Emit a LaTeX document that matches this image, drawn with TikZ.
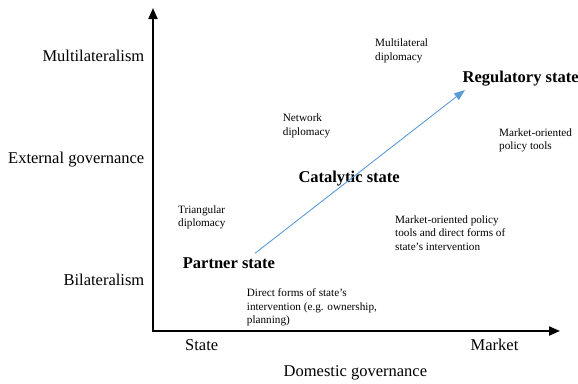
\documentclass[tikz,border=0pt]{standalone}
\usepackage{fontspec}
\setmainfont{Liberation Serif}
\usetikzlibrary{arrows.meta}
\definecolor{trend}{HTML}{5B9BD5}
\begin{document}
\begin{tikzpicture}[x=1pt,y=-1pt,
  axislabel/.style={anchor=base east,inner sep=0pt,font=\fontsize{16.5}{19}\selectfont},
  ticklabel/.style={anchor=base west,inner sep=0pt,font=\fontsize{16.5}{19}\selectfont},
  statelabel/.style={anchor=base west,inner sep=0pt,font=\fontsize{16.5}{19}\selectfont\bfseries},
  note/.style={anchor=base west,inner sep=0pt,font=\fontsize{11.2}{13.5}\selectfont},
  axis/.style={line width=2pt,{Triangle[length=11pt,width=9pt]}-{Triangle[length=11pt,width=9pt]}},
  trendline/.style={draw=trend,line width=0.9pt,-{Triangle[length=11pt,width=8pt]}}]
\useasboundingbox (0,0) rectangle (578,383);

% axes
\coordinate (ytop) at (153,8);
\coordinate (origin) at (153,331);
\coordinate (xend) at (560,331);
\draw[axis] (ytop) -- (origin) -- (xend);

% vertical axis categories
\node[axislabel] (multi) at (144.5,61.5) {Multilateralism};
\node[axislabel] (extgov) at (144.5,163) {External governance};
\node[axislabel] (bilat) at (144.5,285) {Bilateralism};

% horizontal axis categories
\node[ticklabel] (stateax) at (185,350) {State};
\node[ticklabel] (market) at (470.5,350) {Market};
\node[ticklabel] (domgov) at (283.5,376.5) {Domestic governance};

% state types
\node[statelabel] (partner) at (182.7,268.3) {Partner state};
\node[statelabel] (catalytic) at (298.3,182.7) {Catalytic state};
\node[statelabel] (regulatory) at (462.5,82.7) {Regulatory state};

% diplomacy and policy tools
\node[note] (triang) at (178,213.3) {\begin{tabular}[t]{@{}l@{}}Triangular\\diplomacy\end{tabular}};
\node[note] (network) at (282.7,121.7) {\begin{tabular}[t]{@{}l@{}}Network\\diplomacy\end{tabular}};
\node[note] (multidip) at (375,46.7) {\begin{tabular}[t]{@{}l@{}}Multilateral\\diplomacy\end{tabular}};
\node[note] (direct) at (246.7,296.7) {\begin{tabular}[t]{@{}l@{}}Direct forms of state’s\\intervention (e.g. ownership,\\planning)\end{tabular}};
\node[note] (mixed) at (395,223.3) {\begin{tabular}[t]{@{}l@{}}Market-oriented policy\\tools and direct forms of\\state’s intervention\end{tabular}};
\node[note] (marketor) at (499,136) {\begin{tabular}[t]{@{}l@{}}Market-oriented\\policy tools\end{tabular}};

% development path
\coordinate (pathstart) at (255,253.3);
\coordinate (pathend) at (465,90);
\draw[trendline] (pathstart) -- (pathend);
\end{tikzpicture}
\end{document}
